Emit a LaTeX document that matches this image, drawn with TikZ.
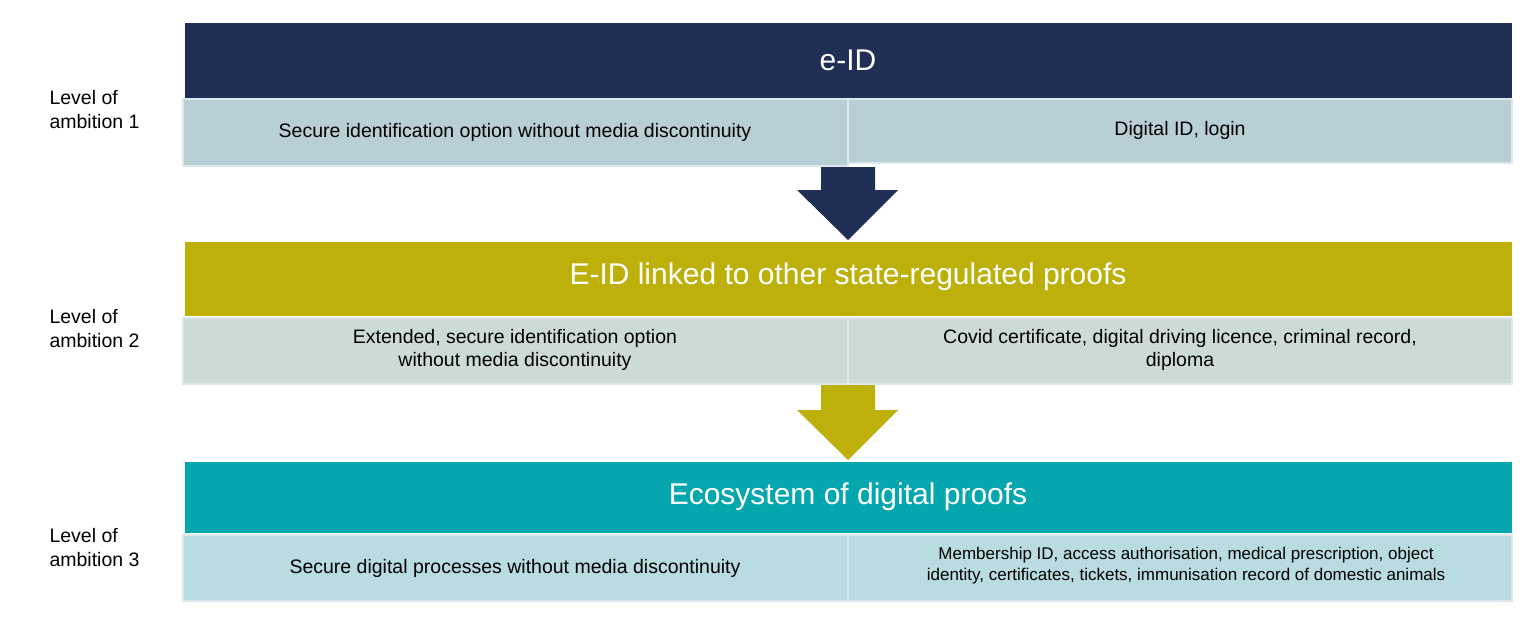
\documentclass[tikz,border=0pt]{standalone}
\usepackage{fontspec}
\setmainfont{Liberation Sans}
\definecolor{navy}{HTML}{1F2F55}
\definecolor{olive}{HTML}{BDB00A}
\definecolor{teal2}{HTML}{05A6AE}
\definecolor{row1}{HTML}{B9CFD6}
\definecolor{row2}{HTML}{CCDCD4}
\definecolor{row3}{HTML}{B9DCE0}
\definecolor{edge}{HTML}{DDE8EC}
\begin{document}
\begin{tikzpicture}[x=1pt,y=-1pt,
  head/.style={inner sep=0pt,text=white,font=\fontsize{30}{34}\selectfont},
  cell/.style={draw=edge,line width=1.5pt,inner sep=0pt,align=center,font=\fontsize{19.5}{23}\selectfont},
  small/.style={font=\fontsize{17}{21}\selectfont},
  lvl/.style={anchor=west,align=left,font=\fontsize{19.5}{24}\selectfont}]
\useasboundingbox (0,0) rectangle (1533,626);
% level 1
\fill[navy] (185,23) rectangle (1512,98);
\node[head] (h1) at (848,60) {e-ID};
\filldraw[row1,draw=edge,line width=1.5pt] (183,99) rectangle (848,166);
\filldraw[row1,draw=edge,line width=1.5pt] (848,99) rectangle (1512,163);
\node[cell,draw=none] (c11) at (515,132) {Secure identification option without media discontinuity};
\node[cell,draw=none] (c12) at (1180,130) {Digital ID, login};
\fill[navy] (821,167) -- (875,167) -- (875,190) -- (898,190) -- (848,240) -- (797,190) -- (821,190) -- cycle;
% level 2
\fill[olive] (185,242) rectangle (1512,316);
\node[head] (h2) at (848,277) {E-ID linked to other state-regulated proofs};
\filldraw[row2,draw=edge,line width=1.5pt] (183,318) rectangle (848,384);
\filldraw[row2,draw=edge,line width=1.5pt] (848,318) rectangle (1512,384);
\node[cell,draw=none] (c21) at (515,350) {Extended, secure identification option\\without media discontinuity};
\node[cell,draw=none] (c22) at (1180,350) {Covid certificate, digital driving licence, criminal record,\\diploma};
\fill[olive] (821,385) -- (875,385) -- (875,410) -- (898,410) -- (848,460) -- (797,410) -- (821,410) -- cycle;
% level 3
\fill[teal2] (185,462) rectangle (1512,533);
\node[head] (h3) at (848,497) {Ecosystem of digital proofs};
\filldraw[row3,draw=edge,line width=1.5pt] (183,535) rectangle (848,601);
\filldraw[row3,draw=edge,line width=1.5pt] (848,535) rectangle (1512,601);
\node[cell,draw=none] (c31) at (515,568) {Secure digital processes without media discontinuity};
\node[cell,draw=none,small] (c32) at (1186,566) {Membership ID, access authorisation, medical prescription, object\\identity, certificates, tickets, immunisation record of domestic animals};
% labels
\node[lvl] (l1) at (46,110) {Level of\\ambition 1};
\node[lvl] (l2) at (46,329) {Level of\\ambition 2};
\node[lvl] (l3) at (46,548) {Level of\\ambition 3};
\end{tikzpicture}
\end{document}
